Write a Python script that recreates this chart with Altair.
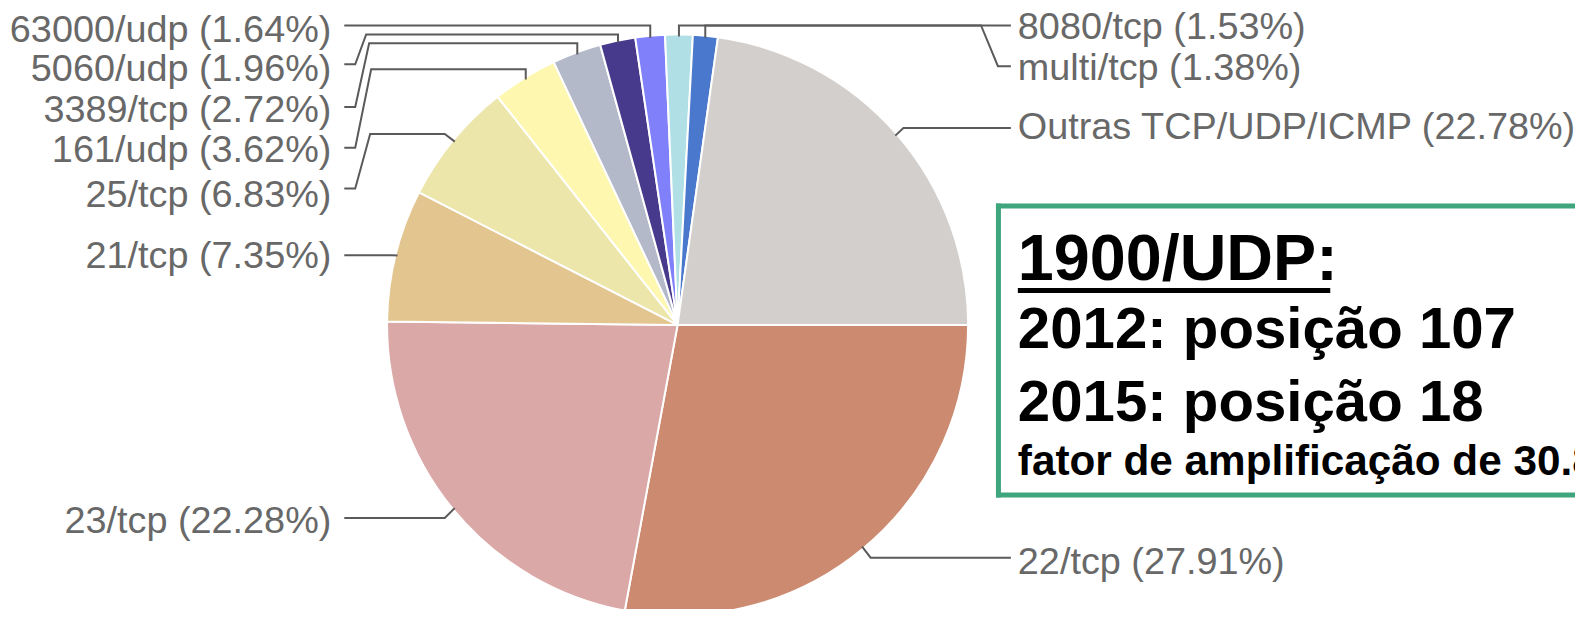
import math
import altair as alt
import pandas as pd

# ---------------- data ----------------
ports = ["22/tcp", "23/tcp", "21/tcp", "25/tcp", "161/udp", "3389/tcp",
         "5060/udp", "63000/udp", "8080/tcp", "multi/tcp", "Outras TCP/UDP/ICMP"]
shares = [27.91, 22.28, 7.35, 6.83, 3.62, 2.72, 1.96, 1.64, 1.53, 1.38, 22.78]
colors = ["#cc8b70", "#dba8a8", "#e3c590", "#ece6ab", "#fef7b0", "#b4b9ca",
          "#473a8c", "#8080fa", "#b0e0e6", "#4a78cc", "#d3cfcc"]

box_lines = ["1900/UDP:", "2012: posição 107", "2015: posição 18",
             "fator de amplificação de 30.8"]

# ---------------- layout (page pixel coords, minus the 8px margin) -------------
OFF = 8
W, H = 1575, 601
CX, CY, R = 681 - OFF, 325 - OFF, 292

# label side, anchor x, baseline y  (page coords)
label_layout = {
    "63000/udp": ("L", 333, 41), "5060/udp": ("L", 333, 80),
    "3389/tcp": ("L", 333, 121), "161/udp": ("L", 333, 161),
    "25/tcp": ("L", 333, 206), "21/tcp": ("L", 333, 268),
    "23/tcp": ("L", 333, 534),
    "8080/tcp": ("R", 1023, 38), "multi/tcp": ("R", 1023, 79),
    "Outras TCP/UDP/ICMP": ("R", 1023, 138), "22/tcp": ("R", 1023, 575),
}
# leader-line knees after the slice edge point ("edge" = same x as edge point)
leader_knees = {
    "63000/udp": [("edge", 24), (346, 24)],
    "5060/udp": [("edge", 33), (368, 33), (357, 63), (346, 63)],
    "3389/tcp": [("edge", 42), (371, 42), (357, 106), (346, 106)],
    "161/udp": [("edge", 68), (373, 68), (357, 147), (346, 147)],
    "25/tcp": [(447, 133), (372, 133), (357, 188), (346, 188)],
    "21/tcp": [(394, 255), (346, 255)],
    "23/tcp": [(447, 519), (346, 519)],
    "22/tcp": [(875, 559), (1016, 559)],
    "Outras TCP/UDP/ICMP": [(908, 127), (1016, 127)],
    "8080/tcp": [("edge", 24), (1016, 24)],
    "multi/tcp": [("edge", 24), (986, 24), (1003, 65), (1016, 65)],
}

# ---------------- tables ----------------
pie = pd.DataFrame({"port": ports, "share": shares, "idx": range(len(ports))})

rows = []
cum = 0.0
for p, s in zip(ports, shares):
    mid = 90 + 360 * (cum + s / 2) / sum(shares)
    cum += s
    ex = CX + (R - 2) * math.sin(math.radians(mid))
    ey = CY - (R - 2) * math.cos(math.radians(mid))
    pts = [(ex, ey)]
    for kx, ky in leader_knees[p]:
        pts.append((ex if kx == "edge" else kx - OFF, ky - OFF))
    for i, (x, y) in enumerate(pts):
        rows.append({"port": p, "seq": i, "x": x, "y": y})
leaders = pd.DataFrame(rows)

lab_rows = []
for p, s in zip(ports, shares):
    side, lx, ly = label_layout[p]
    lab_rows.append({"label": f"{p} ({s:.2f}%)", "side": side,
                     "x": lx - OFF, "y": ly - OFF})
labels = pd.DataFrame(lab_rows)

box_text = pd.DataFrame({
    "t": box_lines,
    "x": [1023 - OFF] * 4,
    "y": [280 - OFF, 348 - OFF, 422 - OFF, 476 - OFF],
    "fs": [65, 58.5, 58.5, 42.5],
})
# box outline: top, bottom (open to the right edge) and left side
box_h = pd.DataFrame({"x": [1001 - OFF, 1001 - OFF], "x2": [3000, 3000],
                      "y": [205.5 - OFF, 496 - OFF]})
box_v = pd.DataFrame({"x": [1003.5 - OFF], "y": [203 - OFF], "y2": [498.5 - OFF]})
uline = pd.DataFrame({"x": [1023 - OFF], "x2": [1337 - OFF], "y": [290.5 - OFF]})

xs = alt.Scale(domain=[0, W], range=[0, W], nice=False, zero=False)
ys = alt.Scale(domain=[0, H], range=[0, H], nice=False, zero=False)
FONT = "Liberation Sans"
GREEN = "#3fa57d"

arc = alt.Chart(pie).mark_arc(outerRadius=R, stroke="white", strokeWidth=2).encode(
    theta=alt.Theta("share:Q", stack=True,
                    scale=alt.Scale(range=[math.pi / 2, math.pi / 2 + 2 * math.pi])),
    color=alt.Color("port:N", scale=alt.Scale(domain=ports, range=colors), legend=None),
    order=alt.Order("idx:Q"),
    x=alt.value(CX), y=alt.value(CY),
)

lines = alt.Chart(leaders).mark_line(color="#5a5a5a", strokeWidth=2).encode(
    x=alt.X("x:Q", scale=xs, axis=None),
    y=alt.Y("y:Q", scale=ys, axis=None),
    detail="port:N",
    order="seq:Q",
)

left_txt = alt.Chart(labels).transform_filter("datum.side == 'L'").mark_text(
    align="right", baseline="alphabetic", font=FONT, fontSize=38, color="#686868"
).encode(x=alt.X("x:Q", scale=xs, axis=None), y=alt.Y("y:Q", scale=ys, axis=None), text="label:N")

right_txt = alt.Chart(labels).transform_filter("datum.side == 'R'").mark_text(
    align="left", baseline="alphabetic", font=FONT, fontSize=38, color="#686868"
).encode(x=alt.X("x:Q", scale=xs, axis=None), y=alt.Y("y:Q", scale=ys, axis=None), text="label:N")

box_top_bottom = alt.Chart(box_h).mark_rule(color=GREEN, strokeWidth=5).encode(
    x=alt.X("x:Q", scale=xs, axis=None), x2="x2:Q", y=alt.Y("y:Q", scale=ys, axis=None),
)
box_left = alt.Chart(box_v).mark_rule(color=GREEN, strokeWidth=5).encode(
    x=alt.X("x:Q", scale=xs, axis=None), y=alt.Y("y:Q", scale=ys, axis=None), y2="y2:Q",
)

box_txt = alt.Chart(box_text).mark_text(
    align="left", baseline="alphabetic", font=FONT, fontWeight="bold", color="black"
).encode(
    x=alt.X("x:Q", scale=xs, axis=None), y=alt.Y("y:Q", scale=ys, axis=None),
    text="t:N", size=alt.Size("fs:Q", scale=None),
)

under = alt.Chart(uline).mark_rule(color="black", strokeWidth=5).encode(
    x=alt.X("x:Q", scale=xs, axis=None), x2="x2:Q", y=alt.Y("y:Q", scale=ys, axis=None),
)

chart = alt.layer(arc, lines, left_txt, right_txt, box_top_bottom, box_left,
                  box_txt, under).properties(
    width=W, height=H, autosize=alt.AutoSizeParams(type="none"), padding=0
).configure_view(stroke=None)

chart.save("out.html", embed_options={"renderer": "svg", "actions": False})
